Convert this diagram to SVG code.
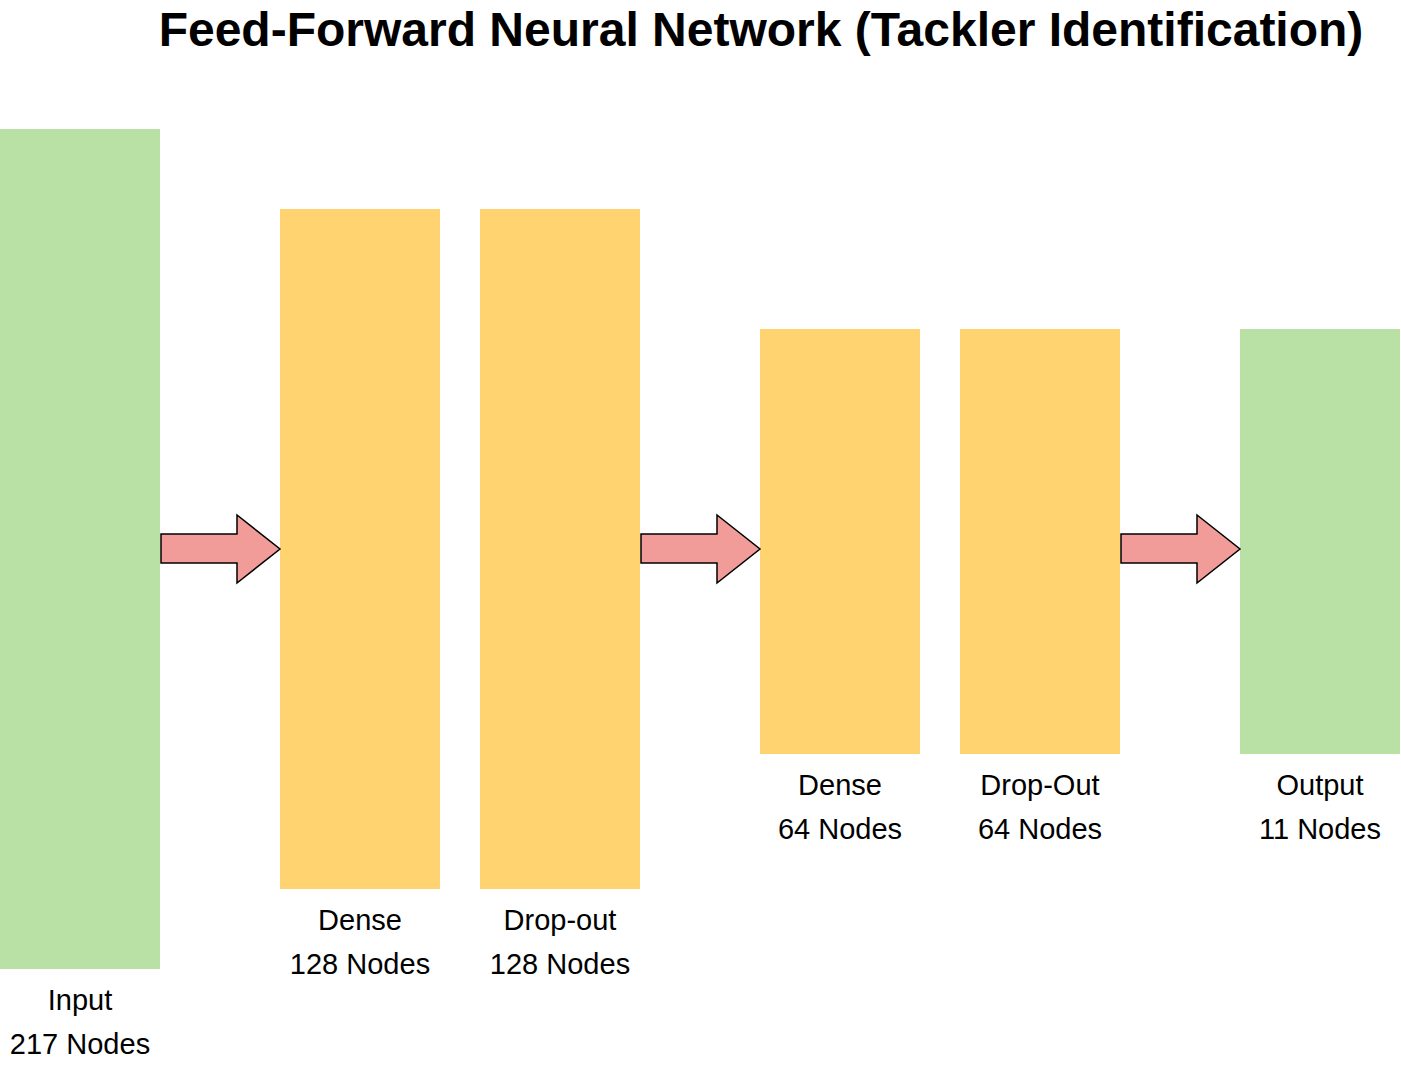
<svg xmlns="http://www.w3.org/2000/svg" width="1401" height="1070" viewBox="0 0 1401 1070">
<style>
.io{fill:#B9E0A5}
.hid{fill:#FFD470}
.lbl{font-family:"Liberation Sans",Arial,sans-serif;font-size:29px;fill:#000;text-anchor:middle}
.title{font-family:"Liberation Sans",Arial,sans-serif;font-size:48px;font-weight:bold;fill:#000;text-anchor:middle}
.arr{fill:#F19C99;stroke:#000;stroke-width:1.5;stroke-linejoin:miter}
</style>
<rect width="1401" height="1070" fill="#fff"/>
<text class="title" x="761" y="46">Feed-Forward Neural Network (Tackler Identification)</text>
<g id="input"><rect class="io" x="0" y="129" width="160" height="840"/><text class="lbl" x="80" y="1010">Input</text><text class="lbl" x="80" y="1054">217 Nodes</text></g>
<g id="dense1"><rect class="hid" x="280" y="209" width="160" height="680"/><text class="lbl" x="360" y="930">Dense</text><text class="lbl" x="360" y="974">128 Nodes</text></g>
<g id="drop1"><rect class="hid" x="480" y="209" width="160" height="680"/><text class="lbl" x="560" y="930">Drop-out</text><text class="lbl" x="560" y="974">128 Nodes</text></g>
<g id="dense2"><rect class="hid" x="760" y="329" width="160" height="425"/><text class="lbl" x="840" y="795">Dense</text><text class="lbl" x="840" y="839">64 Nodes</text></g>
<g id="drop2"><rect class="hid" x="960" y="329" width="160" height="425"/><text class="lbl" x="1040" y="795">Drop-Out</text><text class="lbl" x="1040" y="839">64 Nodes</text></g>
<g id="output"><rect class="io" x="1240" y="329" width="160" height="425"/><text class="lbl" x="1320" y="795">Output</text><text class="lbl" x="1320" y="839">11 Nodes</text></g>
<g id="connectors">
<polygon class="arr" points="161,534 237,534 237,515 280,549 237,583 237,563 161,563"/>
<polygon class="arr" points="641,534 717,534 717,515 760,549 717,583 717,563 641,563"/>
<polygon class="arr" points="1121,534 1197,534 1197,515 1240,549 1197,583 1197,563 1121,563"/>
</g>
</svg>
